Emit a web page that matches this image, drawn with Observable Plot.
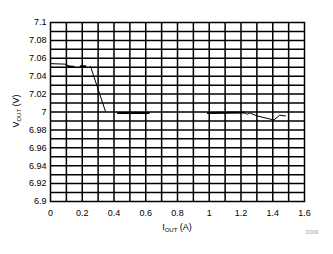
<!DOCTYPE html>
<html><head><meta charset="utf-8">
<script src="https://cdn.jsdelivr.net/npm/d3@7"></script>
<script src="https://cdn.jsdelivr.net/npm/@observablehq/plot@0.6"></script>
<style>body{margin:0;background:#fff}</style>
</head><body><div id="chart"></div>
<script>
// Measured output voltage vs load current (gaps = NaN)
const iout = [0.005, 0.09, 0.12, 0.145, NaN, 0.19, 0.22, NaN, 0.252, 0.346, NaN, 0.424, 0.619, NaN, 0.991, 1.218, 1.239, 1.255, 1.302, 1.407, 1.444, 1.480];
const vout = [7.054, 7.0535, 7.051, 7.0505, NaN, 7.051, 7.051, NaN, 7.051, 7.0008, NaN, 6.999, 6.999, NaN, 6.999, 6.9994, 6.9975, 6.9989, 6.9956, 6.9911, 6.9964, 6.9956];
// Denser (overlapping) portions drawn heavier
const ioutDense = [0.113, 0.145, NaN, 0.19, 0.22, NaN, 0.424, 0.619, NaN, 0.991, 1.218];
const voutDense = [7.0507, 7.0505, NaN, 7.051, 7.051, NaN, 6.999, 6.999, NaN, 6.999, 6.9994];

const xTicks = [0, 0.2, 0.4, 0.6, 0.8, 1, 1.2, 1.4, 1.6];
const yTicks = [6.9, 6.92, 6.94, 6.96, 6.98, 7, 7.02, 7.04, 7.06, 7.08, 7.1];
const xGrid = [0.1, 0.2, 0.3, 0.4, 0.5, 0.6, 0.7, 0.8, 0.9, 1, 1.1, 1.2, 1.3, 1.4, 1.5];
const yGrid = [6.91, 6.92, 6.93, 6.94, 6.95, 6.96, 6.97, 6.98, 6.99, 7, 7.01, 7.02, 7.03, 7.04, 7.05, 7.06, 7.07, 7.08, 7.09];

const data = iout.map((x, i) => ({x, y: vout[i]}));
const dense = ioutDense.map((x, i) => ({x, y: voutDense[i]}));

const chart = Plot.plot({
  width: 333, height: 254,
  marginLeft: 50, marginRight: 29, marginTop: 22, marginBottom: 53,
  x: {domain: [0, 1.6]},
  y: {domain: [6.9, 7.1]},
  style: {fontFamily: "'Liberation Sans', Arial, sans-serif", fontSize: "9px", color: "#000", background: "#fff", overflow: "visible"},
  marks: [
    Plot.ruleX(xGrid, {stroke: "#000", strokeWidth: 1.5}),
    Plot.ruleY(yGrid, {stroke: "#000", strokeWidth: 1.5}),
    Plot.frame({stroke: "#000", strokeWidth: 1.5}),
    Plot.line(data, {x: "x", y: "y", stroke: "#000", strokeWidth: 1}),
    Plot.line(dense, {x: "x", y: "y", stroke: "#000", strokeWidth: 2}),
    Plot.axisX({ticks: xTicks, tickSize: 0, tickPadding: 8, label: null, tickFormat: d => String(d)}),
    Plot.axisY({ticks: yTicks, tickSize: 0, tickPadding: 4, label: null, tickFormat: d => String(d)})
  ]
});
document.getElementById("chart").appendChild(chart);

const svg = d3.select(chart);
const font = "'Liberation Sans', Arial, sans-serif";
const xt = svg.append("text").attr("x", 177).attr("y", 230).attr("text-anchor", "middle")
  .attr("font-family", font).attr("font-size", 9).attr("fill", "#000");
xt.append("tspan").text("I");
xt.append("tspan").attr("font-size", 6).attr("dy", 2).text("OUT");
xt.append("tspan").attr("dy", -2).text(" (A)");

const yt = svg.append("text").attr("transform", "translate(19,111) rotate(-90)").attr("text-anchor", "middle")
  .attr("font-family", font).attr("font-size", 9).attr("fill", "#000");
yt.append("tspan").text("V");
yt.append("tspan").attr("font-size", 6).attr("dy", 2).text("OUT");
yt.append("tspan").attr("dy", -2).text(" (V)");

svg.append("text").attr("x", 318).attr("y", 234).attr("text-anchor", "end")
  .attr("font-family", font).attr("font-size", 5).attr("fill", "#999").text("D009");
</script>
</body></html>
